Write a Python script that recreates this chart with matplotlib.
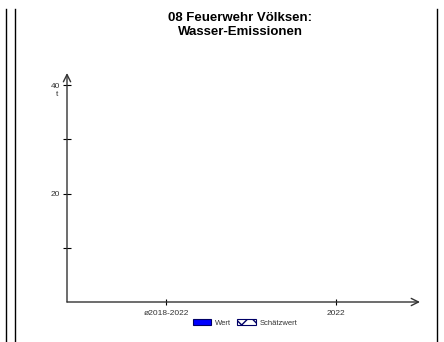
import matplotlib
matplotlib.use('Agg')
import matplotlib.pyplot as plt
from matplotlib.lines import Line2D
from matplotlib.patches import Patch

plt.rcParams['font.family'] = ['Liberation Sans', 'DejaVu Sans']

title = '08 Feuerwehr Völksen:\nWasser-Emissionen'
categories = ['ø2018-2022', '2022']
values = [None, None]  # no values shown in the reference
y_ticks = [10, 20, 30, 40]
y_tick_labels = ['', '20', '', '40']
unit = 't'
legend_labels = ['Wert', 'Schätzwert']

W, H = 444, 342
fig = plt.figure(figsize=(W / 100, H / 100), dpi=100)

# axes box in pixels: y axis at x=67, x axis at y=302, arrow tips at x=420 / y=73
left, right, bottom, top = 67, 420, 302, 73
ax = fig.add_axes([left / W, (H - bottom) / H, (right - left) / W,
                   (bottom - top) / H])
ax.set_ylim(0, (bottom - top) / ((bottom - 85) / 40))
px_per_cat = 336 - 166
ax.set_xlim(-(166 - left) / px_per_cat, (right - 166) / px_per_cat)

for s in ax.spines.values():
    s.set_visible(False)
ax.patch.set_alpha(0)

axis_col = '#333333'
for tip in [(1, 0), (0, 1)]:
    ax.annotate('', xy=tip, xytext=(0, 0), xycoords='axes fraction',
                arrowprops=dict(arrowstyle='->', color=axis_col, lw=1.0,
                                shrinkA=0, shrinkB=0, mutation_scale=13))

x = list(range(len(categories)))
ax.set_xticks(x)
ax.set_xticklabels(categories)
ax.set_yticks(y_ticks)
ax.set_yticklabels(y_tick_labels)
ax.tick_params(axis='both', direction='inout', length=6, width=0.8,
               color='black', labelsize=6, labelcolor='#333333', pad=2)
ax.tick_params(axis='x', length=5, pad=3)

ax.text(-0.025, 38.2, unit, transform=ax.get_yaxis_transform(),
        ha='right', va='center', fontsize=6, color='#333333')

fig.text(240 / W, 1 - 25 / H, title, ha='center', va='center',
         fontsize=9.5, fontweight='bold', linespacing=1.2)

# frame lines
for xp in (6, 15, 437):
    fig.add_artist(Line2D([xp / W, xp / W], [0, 1 - 9 / H],
                          color='black', lw=1.0))

plt.rcParams['hatch.color'] = '#0000ff'
handles = [Patch(facecolor='#0000ff', edgecolor='#000066', lw=0.8),
           Patch(facecolor='white', edgecolor='#000066', lw=0.8,
                 hatch='xx')]
fig.legend(handles, legend_labels, loc='center',
           bbox_to_anchor=(245 / W, 1 - 323 / H), ncol=2, frameon=False,
           fontsize=5.5, handlelength=2.4, handleheight=0.8,
           handletextpad=0.5, columnspacing=0.8, labelcolor='#333333')

fig.savefig('out.png', dpi=100)
